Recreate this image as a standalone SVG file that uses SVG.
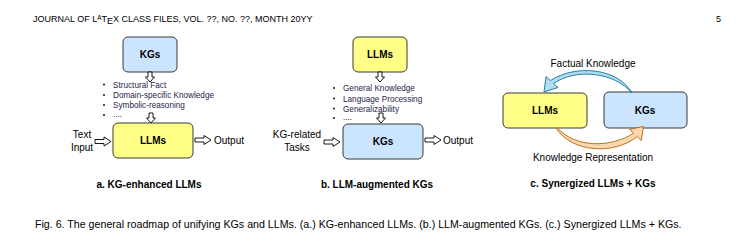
<svg xmlns="http://www.w3.org/2000/svg" width="752" height="244" viewBox="0 0 752 244">
<style>
text{font-family:"Liberation Sans",Arial,sans-serif;fill:#000}
.hdr{font-size:9px}
.lbl{font-size:10px;font-weight:bold;text-anchor:middle}
.cap{font-size:10px;font-weight:bold;text-anchor:middle}
.side{font-size:10px;text-anchor:middle}
.out{font-size:10px}
.bul{font-size:8.2px;fill:#1f2447}
.y{fill:#ffff88;stroke:#36393d;stroke-width:1}
.b{fill:#cce5ff;stroke:#36393d;stroke-width:1}
.ha{fill:#fff;stroke:#000;stroke-width:0.9}
.dot{fill:#1f2447}
</style>
<defs>
<path id="ra" d="M0,-2 H9 V-4.5 L16,0 L9,4.5 V2 H0 Z"/>
<path id="da" d="M-2,0 V5 H-4.5 L0,10 L4.5,5 H2 V0 Z"/>
</defs>

<text class="hdr" x="33" y="22">JOURNAL OF L<tspan dy="-2" font-size="6.4px">A</tspan><tspan dy="2">T</tspan><tspan dy="2">E</tspan><tspan dy="-2">X CLASS FILES, VOL. ??, NO. ??, MONTH 20YY</tspan></text>
<text class="hdr" x="716" y="22">5</text>

<!-- a -->
<g id="a-kgs"><rect class="b" x="123" y="37" width="54" height="35" rx="5"/><text class="lbl" x="150" y="58">KGs</text></g>
<g id="a-list">
<circle class="dot" cx="104" cy="84.5" r="1.1"/><text class="bul" x="113" y="87.5">Structural Fact</text>
<circle class="dot" cx="104" cy="95" r="1.1"/><text class="bul" x="113" y="98">Domain-specific Knowledge</text>
<circle class="dot" cx="104" cy="105" r="1.1"/><text class="bul" x="113" y="108">Symbolic-reasoning</text>
<circle class="dot" cx="104" cy="115" r="1.1"/><text class="bul" x="113" y="117">....</text>
</g>
<g id="a-llms"><rect class="y" x="113" y="123" width="80" height="35" rx="5"/><text class="lbl" x="153" y="144">LLMs</text></g>
<g id="a-input"><text class="side" x="82" y="138">Text</text><text class="side" x="82" y="151">Input</text></g>
<g id="a-output"><text class="out" x="214" y="144">Output</text></g>
<text class="cap" x="149" y="188">a. KG-enhanced LLMs</text>

<!-- b -->
<g id="b-llms"><rect class="y" x="353" y="37" width="54" height="35" rx="5"/><text class="lbl" x="380" y="58">LLMs</text></g>
<g id="b-list">
<circle class="dot" cx="334" cy="88" r="1.1"/><text class="bul" x="343" y="91">General Knowledge</text>
<circle class="dot" cx="334" cy="98.5" r="1.1"/><text class="bul" x="343" y="101.5">Language Processing</text>
<circle class="dot" cx="334" cy="108.5" r="1.1"/><text class="bul" x="343" y="111.5">Generalizability</text>
<circle class="dot" cx="334" cy="118" r="1.1"/><text class="bul" x="343" y="120">....</text>
</g>
<g id="b-kgs"><rect class="b" x="343" y="124" width="80" height="35" rx="5"/><text class="lbl" x="383" y="145">KGs</text></g>
<g id="b-input"><text class="side" x="297" y="138">KG-related</text><text class="side" x="297" y="151">Tasks</text></g>
<g id="b-output"><text class="out" x="443" y="144">Output</text></g>
<text class="cap" x="377" y="188">b. LLM-augmented KGs</text>

<!-- c -->
<g id="c-llms"><rect class="y" x="503" y="93" width="84" height="35" rx="5"/><text class="lbl" x="545" y="114">LLMs</text></g>
<g id="c-kgs"><rect class="b" x="604" y="92" width="83" height="36" rx="5"/><text class="lbl" x="645" y="114">KGs</text></g>
<text class="side" x="593" y="67">Factual Knowledge</text>
<text class="side" x="593" y="161">Knowledge Representation</text>
<text class="cap" x="593" y="187">c. Synergized LLMs + KGs</text>

<g id="connectors">
<use href="#da" class="ha" x="150" y="72"/>
<use href="#da" class="ha" x="151" y="113"/>
<use href="#ra" class="ha" x="95" y="141.5"/>
<use href="#ra" class="ha" x="195" y="140"/>
<use href="#da" class="ha" x="380" y="72"/>
<use href="#da" class="ha" x="381" y="113"/>
<use href="#ra" class="ha" x="324" y="142"/>
<use href="#ra" class="ha" x="425" y="140"/>
<path d="M632,93 C618,68 576,64 550.4,80.5 L546,76.5 L544,92 L558,87.5 L553.6,83.5 C576,68 614,72 632,93 Z" fill="#b1ddf0" stroke="#10739e" stroke-width="0.9" stroke-linejoin="round"/>
<path d="M556,128 C572,153 614,155 637.2,136.6 L641.2,140.5 L643.5,126.5 L629.6,129.3 L633.6,133.2 C611,148 575,148 557.5,128 Z" fill="#fad7ac" stroke="#b46504" stroke-width="0.9" stroke-linejoin="round"/>
</g>

<text x="35" y="228" font-size="10.65px">Fig. 6. The general roadmap of unifying KGs and LLMs. (a.) KG-enhanced LLMs. (b.) LLM-augmented KGs. (c.) Synergized LLMs + KGs.</text>
</svg>
